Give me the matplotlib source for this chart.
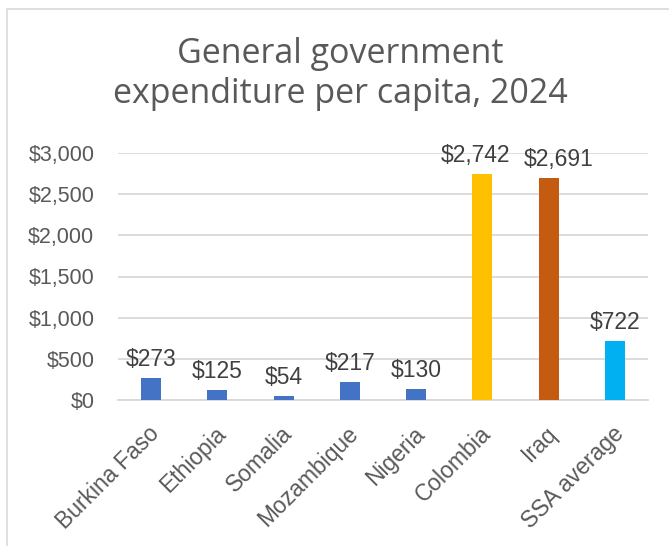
import matplotlib
matplotlib.use("Agg")
import matplotlib.pyplot as plt
from matplotlib.patches import Rectangle
from matplotlib.ticker import FuncFormatter
from matplotlib.transforms import ScaledTranslation

categories = ["Burkina Faso", "Ethiopia", "Somalia", "Mozambique", "Nigeria",
              "Colombia", "Iraq", "SSA average"]
values = [273, 125, 54, 217, 130, 2742, 2691, 722]
colors = ["#4472C4"] * 5 + ["#FFC000", "#C55A11", "#00B0F0"]
yticks = [0, 500, 1000, 1500, 2000, 2500, 3000]
title = "General government\nexpenditure per capita, 2024"

# horizontal nudges (pixels) of data labels, as the source shifts colliding labels
label_dx = [0, 0, 0, 0, 0, -7, 10, 0]

plt.rcParams['font.family'] = ['Liberation Sans', 'DejaVu Sans']

fig = plt.figure(figsize=(6.69, 5.46), dpi=100)
fig.patches.append(Rectangle((7/669, -0.1), 1.2, 1 - 9/546 + 0.1,
                             transform=fig.transFigure, fill=False,
                             edgecolor="#D9D9D9", linewidth=1.2))

ax = fig.add_axes([118/669, 1 - 400/546, 530/669, 247/546])
x = range(len(categories))
ax.bar(x, values, width=0.3, color=colors, zorder=3)
ax.set_xlim(-0.5, len(categories) - 0.5)
ax.set_ylim(0, 3000)
ax.set_yticks(yticks)
ax.yaxis.set_major_formatter(FuncFormatter(lambda v, p: f"${v:,.0f}"))
ax.grid(axis="y", color="#D9D9D9", linewidth=1.3, zorder=0)
for s in ["top", "right", "left"]:
    ax.spines[s].set_visible(False)
ax.spines["bottom"].set_color("#D9D9D9")
ax.spines["bottom"].set_linewidth(1.3)
ax.tick_params(axis="y", length=0, colors="#595959", labelsize=15.5, pad=17)
ax.tick_params(axis="x", length=0, colors="#595959", labelsize=16.5, pad=16)
ax.set_xticks(list(x))
ax.set_xticklabels(categories, rotation=45, ha="right", rotation_mode="anchor")
for lbl in ax.get_xticklabels():
    lbl.set_transform(lbl.get_transform() + ScaledTranslation(-3/100, 0, fig.dpi_scale_trans))

for xi, v, dx in zip(x, values, label_dx):
    ax.annotate(f"${v:,}", (xi, v), xytext=(dx * 0.72, 5), textcoords="offset points",
                ha="center", va="bottom", fontsize=16.5, color="#404040",
                annotation_clip=False)

fig.text(340/669, 1 - 74/546, title, ha="center", va="center",
         fontsize=24.5, color="#595959", linespacing=1.25,
         family=['Open Sans', 'DejaVu Sans'])

fig.savefig("out.png", dpi=100)
